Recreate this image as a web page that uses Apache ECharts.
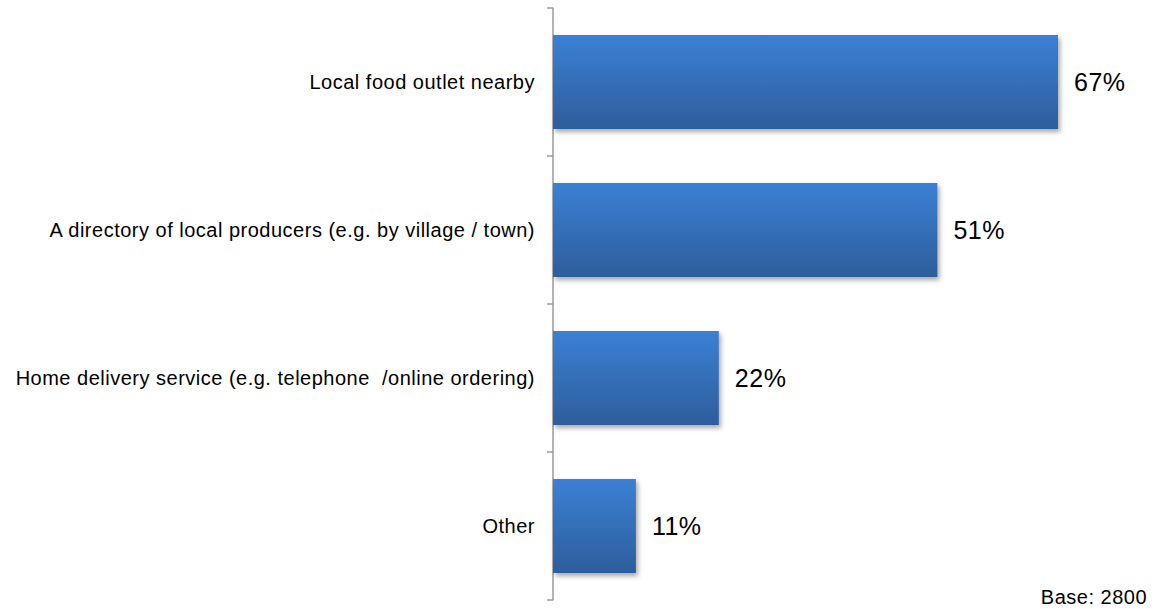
<!DOCTYPE html>
<html>
<head>
<meta charset="utf-8">
<script src="https://cdn.jsdelivr.net/npm/echarts@6/dist/echarts.min.js"></script>
<style>
  html, body { margin: 0; padding: 0; background: #ffffff; }
  #chart { width: 1156px; height: 609px; }
  /* slightly wide text spacing for all chart labels */
  #chart text { letter-spacing: 0.5px; }
</style>
</head>
<body>
<div id="chart"></div>
<script>
// Survey answers, top to bottom
const categories = [
  'Local food outlet nearby',
  'A directory of local producers (e.g. by village / town)',
  'Home delivery service (e.g. telephone  /online ordering)',
  'Other'
];
// Share of respondents, percent
const shares = [67, 51, 22, 11];
const baseNote = 'Base: 2800';

const chart = echarts.init(document.getElementById('chart'), null, { renderer: 'svg' });
chart.setOption({
  animation: false,
  backgroundColor: '#ffffff',
  grid: { left: 553, top: 8, width: 606, height: 592, containLabel: false },
  xAxis: {
    type: 'value', min: 0, max: 80,
    show: false
  },
  yAxis: {
    type: 'category',
    data: categories,
    inverse: true,
    axisLine: { show: true, lineStyle: { color: '#9a9a9a', width: 1.5 } },
    axisTick: { show: true, length: 6, lineStyle: { color: '#9a9a9a', width: 1.5 } },
    axisLabel: {
      margin: 18,
      color: '#000000',
      fontFamily: 'Liberation Sans, Arial, sans-serif',
      fontSize: 20
    },
    splitLine: { show: false }
  },
  series: [{
    type: 'bar',
    data: shares,
    barCategoryGap: '36.5%',
    itemStyle: {
      color: new echarts.graphic.LinearGradient(0, 0, 0, 1, [
        { offset: 0, color: '#3b80d4' },
        { offset: 1, color: '#2d5e9c' }
      ]),
      shadowColor: 'rgba(0,0,0,0.35)',
      shadowBlur: 5,
      shadowOffsetX: 2,
      shadowOffsetY: 3
    },
    label: {
      show: true,
      position: 'right',
      distance: 16,
      formatter: p => p.value + '%',
      color: '#000000',
      fontFamily: 'Liberation Sans, Arial, sans-serif',
      fontSize: 25
    }
  }],
  graphic: [{
    type: 'text',
    right: 14,
    top: 587,
    style: {
      text: baseNote,
      fill: '#000000',
      font: '20px "Liberation Sans", Arial, sans-serif'
    }
  }]
});
</script>
</body>
</html>
